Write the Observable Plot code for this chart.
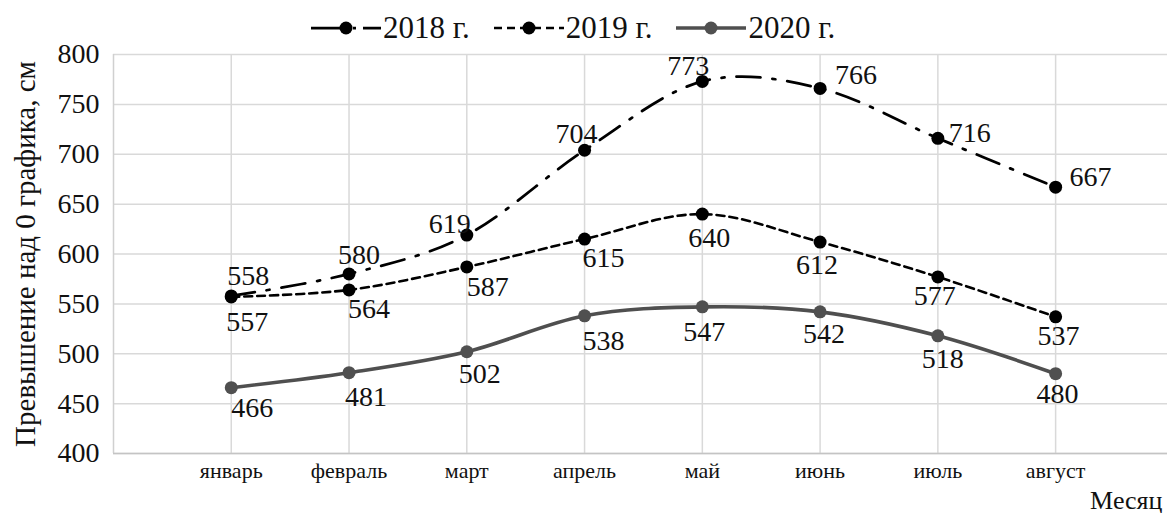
<!DOCTYPE html>
<html>
<head>
<meta charset="utf-8">
<script src="https://cdn.jsdelivr.net/npm/d3@7"></script>
<script src="https://cdn.jsdelivr.net/npm/@observablehq/plot@0.6"></script>
<style>
  body { margin: 0; background: #fff; }
  #chart { position: relative; width: 1167px; height: 513px; color: #111; }
  #chart, #chart *, #chart svg text { font-family: 'Liberation Serif', 'Times New Roman', serif !important; }
  #legend { position: absolute; top: 8px; left: 311px; display: flex; align-items: center; font-size: 31px; line-height: 40px; white-space: nowrap; }
  #legend .item { display: flex; align-items: center; margin-right: 24px; }
  #legend svg { display: block; margin-right: 2px; }
  #chart > svg { position: absolute; left: 0; top: 0; }
</style>
</head>
<body>
<div id="chart"><div id="legend"></div></div>
<script>
// Months on the horizontal axis
const months = ["январь", "февраль", "март", "апрель", "май", "июнь", "июль", "август"];

// Water level above gauge zero, cm
const v2018 = [558, 580, 619, 704, 773, 766, 716, 667];
const v2019 = [557, 564, 587, 615, 640, 612, 577, 537];
const v2020 = [466, 481, 502, 538, 547, 542, 518, 480];

const seriesNames = ["2018 г.", "2019 г.", "2020 г."];
const yTicks = [400, 450, 500, 550, 600, 650, 700, 750, 800];

// Value label offsets [dx, dy] in pixels, one per month
const lab2018 = [[17, -20], [10, -19], [-17, -11], [-8, -16], [-14, -15], [36, -13], [32, -5], [35, -10]];
const lab2019 = [[16, 25], [20, 19], [21, 20], [19, 19], [7, 24], [-3, 23], [-3, 19], [3, 19]];
const lab2020 = [[21, 20], [17, 24], [13, 22], [19, 25], [2, 25], [4, 22], [5, 23], [2, 20]];

const styles = [
  {stroke: "#000", dash: "24,12,3,12", swatchDash: "29,13,3,7,20", width: 2.75, dot: "#000"},
  {stroke: "#000", dash: "8,5", swatchDash: "8,5", width: 2.6, dot: "#000"},
  {stroke: "#4f4f4f", dash: null, swatchDash: null, width: 3.6, dot: "#505050"}
];

const values = [v2018, v2019, v2020];
const offsets = [lab2018, lab2019, lab2020];
const rows = values.map((vals, s) => vals.map((value, i) => ({series: seriesNames[s], i, value})));

const font = "'Liberation Serif', 'Times New Roman', serif";

const marks = [
  Plot.gridY(yTicks, {stroke: "#d9d9d9", strokeOpacity: 1, strokeWidth: 1.5}),
  Plot.gridX(d3.range(months.length), {stroke: "#d9d9d9", strokeOpacity: 1, strokeWidth: 1.5}),
  Plot.ruleX([-1], {stroke: "#d0d0d0", strokeWidth: 1.5}),
  Plot.ruleY([400], {stroke: "#c4c4c4", strokeWidth: 1.5}),
  Plot.axisY({ticks: yTicks, tickSize: 0, tickPadding: 14, fontSize: 28, label: null}),
  Plot.axisX({ticks: d3.range(months.length), tickFormat: i => months[i], tickSize: 0, tickPadding: 9, fontSize: 22, label: null}),
  Plot.text(["Превышение над 0 графика, см"], {frameAnchor: "left", rotate: -90, dx: -88, fontSize: 29, textAnchor: "middle", lineAnchor: "middle"}),
  Plot.text(["Месяц"], {frameAnchor: "bottom-right", dx: -5, dy: 55, fontSize: 26, textAnchor: "end", lineAnchor: "bottom"})
];

rows.forEach((data, s) => {
  const st = styles[s];
  marks.push(Plot.line(data, {x: "i", y: "value", curve: "cardinal", stroke: st.stroke, strokeWidth: st.width, strokeDasharray: st.dash}));
  marks.push(Plot.dot(data, {x: "i", y: "value", r: 6.5, fill: st.dot, stroke: "none"}));
  data.forEach((d, i) => {
    const [dx, dy] = offsets[s][i];
    marks.push(Plot.text([d], {x: "i", y: "value", text: d => String(d.value), dx, dy, fontSize: 28, textAnchor: "middle", lineAnchor: "middle", fill: "#111"}));
  });
});

const chart = Plot.plot({
  width: 1167,
  height: 513,
  marginLeft: 113,
  marginRight: 0,
  marginTop: 54,
  marginBottom: 60,
  style: {fontFamily: font, background: "transparent", color: "#111"},
  x: {type: "linear", domain: [-1, 7.95]},
  y: {domain: [400, 800]},
  marks
});
document.getElementById("chart").prepend(chart);

// Legend: line swatch with marker, then series name
const legend = d3.select("#legend");
seriesNames.forEach((name, s) => {
  const st = styles[s];
  const item = legend.append("div").attr("class", "item");
  const sw = item.append("svg").attr("width", 70).attr("height", 20);
  sw.append("line").attr("x1", 0).attr("x2", 70).attr("y1", 10).attr("y2", 10)
    .attr("stroke", st.stroke).attr("stroke-width", st.width)
    .attr("stroke-dasharray", st.swatchDash);
  sw.append("circle").attr("cx", 35).attr("cy", 10).attr("r", 6.5).attr("fill", st.dot);
  item.append("span").text(name);
});
</script>
</body>
</html>
